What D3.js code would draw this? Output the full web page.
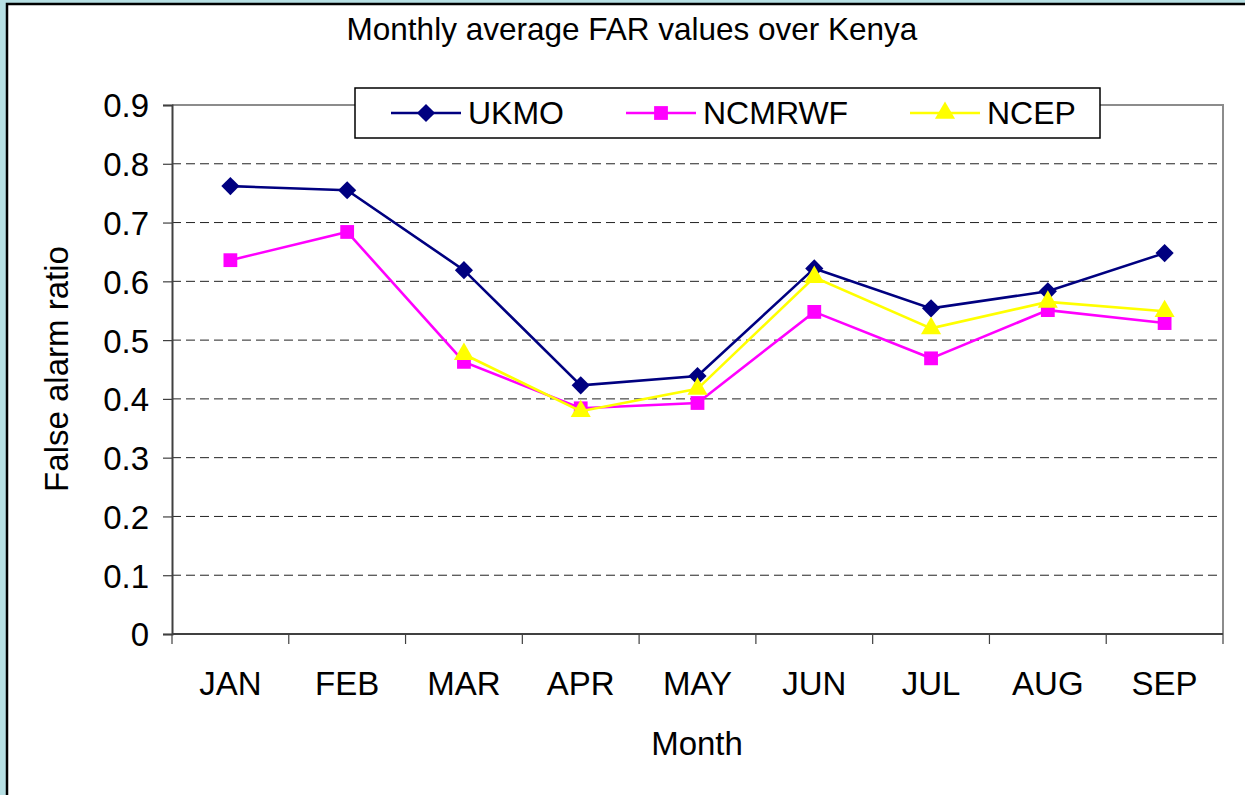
<!DOCTYPE html>
<html>
<head>
<meta charset="utf-8">
<script src="https://cdn.jsdelivr.net/npm/d3@7"></script>
<style>
  html, body { margin: 0; padding: 0; background: #b6dfe3; }
  svg { display: block; }
  text { font-family: "Liberation Sans", Arial, sans-serif; fill: #000; }
</style>
</head>
<body>
<svg id="chart" width="1245" height="795"></svg>
<script>
const months = ["JAN", "FEB", "MAR", "APR", "MAY", "JUN", "JUL", "AUG", "SEP"];
const ukmo = [0.762, 0.755, 0.619, 0.423, 0.439, 0.622, 0.554, 0.583, 0.648];
const ncmrwf = [0.636, 0.684, 0.463, 0.384, 0.393, 0.548, 0.469, 0.551, 0.529];
const ncep = [null, null, 0.476, 0.379, 0.417, 0.607, 0.520, 0.565, 0.549];
const yTicks = [0, 0.1, 0.2, 0.3, 0.4, 0.5, 0.6, 0.7, 0.8, 0.9];

// diamond = square turned 45 degrees
const series = [
  { name: "UKMO", values: ukmo, color: "#000080", symbol: d3.symbolSquare, size: 165, rot: 45 },
  { name: "NCMRWF", values: ncmrwf, color: "#ff00ff", symbol: d3.symbolSquare, size: 190, rot: 0 },
  { name: "NCEP", values: ncep, color: "#ffff00", symbol: d3.symbolTriangle, size: 175, rot: 0 }
];

const svg = d3.select("#chart");

// white panel with black frame on top/left
svg.append("rect")
  .attr("x", 7).attr("y", 4)
  .attr("width", 1245).attr("height", 800)
  .attr("fill", "#fff")
  .attr("stroke", "#000")
  .attr("stroke-width", 2.5);

const plot = { left: 172, right: 1223, top: 105, bottom: 634 };

const x = d3.scaleBand().domain(months).range([plot.left, plot.right]).padding(0);
const y = d3.scaleLinear().domain([0, 0.9]).range([plot.bottom, plot.top]);

// gridlines
svg.append("g")
  .selectAll("line")
  .data(yTicks.filter(d => d > 0 && d < 0.9))
  .enter()
  .append("line")
  .attr("x1", plot.left).attr("x2", plot.right)
  .attr("y1", d => y(d)).attr("y2", d => y(d))
  .attr("stroke", "#222")
  .attr("stroke-width", 1)
  .attr("stroke-dasharray", "9,5");

// plot area border (top/right gray)
svg.append("path")
  .attr("d", `M${plot.left},${plot.top}H${plot.right}V${plot.bottom}`)
  .attr("fill", "none")
  .attr("stroke", "#8c8c8c")
  .attr("stroke-width", 2);

// y axis
const yAxis = svg.append("g")
  .attr("transform", `translate(${plot.left},0)`)
  .call(d3.axisLeft(y).tickValues(yTicks).tickSize(9).tickPadding(14)
    .tickFormat(d => d === 0 ? "0" : d3.format(".1f")(d)));
yAxis.select(".domain").attr("stroke", "#404040").attr("stroke-width", 2);
yAxis.selectAll(".tick line").attr("stroke", "#404040").attr("stroke-width", 1.2);
yAxis.selectAll("text").style("font-size", "33px").attr("dy", "0.36em");

// x axis: ticks at category boundaries
const xAxis = svg.append("g")
  .attr("transform", `translate(0,${plot.bottom})`);
xAxis.append("line")
  .attr("x1", plot.left).attr("x2", plot.right)
  .attr("stroke", "#404040").attr("stroke-width", 2);
const bounds = months.map(m => x(m)).concat([plot.right]);
xAxis.selectAll(".bt")
  .data(bounds)
  .enter()
  .append("line")
  .attr("x1", d => d).attr("x2", d => d)
  .attr("y1", 0).attr("y2", 10)
  .attr("stroke", "#404040").attr("stroke-width", 1.2);
xAxis.selectAll(".lbl")
  .data(months)
  .enter()
  .append("text")
  .attr("x", d => x(d) + x.bandwidth() / 2)
  .attr("y", 61)
  .attr("text-anchor", "middle")
  .style("font-size", "33px")
  .text(d => d);

// lines and markers
const cx = i => x(months[i]) + x.bandwidth() / 2;
series.forEach(s => {
  const line = d3.line()
    .defined(d => d != null)
    .x((d, i) => cx(i))
    .y(d => y(d));
  svg.append("path")
    .datum(s.values)
    .attr("d", line)
    .attr("fill", "none")
    .attr("stroke", s.color)
    .attr("stroke-width", 2.6);
  svg.append("g")
    .selectAll("path")
    .data(s.values.map((v, i) => ({ v, i })).filter(d => d.v != null))
    .enter()
    .append("path")
    .attr("d", d3.symbol().type(s.symbol).size(s.size))
    .attr("transform", d => `translate(${cx(d.i)},${y(d.v)}) rotate(${s.rot})`)
    .attr("fill", s.color);
});

// title
svg.append("text")
  .attr("x", 632).attr("y", 40)
  .attr("text-anchor", "middle")
  .style("font-size", "31.5px")
  .text("Monthly average FAR values over Kenya");

// axis titles
svg.append("text")
  .attr("x", 697).attr("y", 755)
  .attr("text-anchor", "middle")
  .style("font-size", "33px")
  .text("Month");
svg.append("text")
  .attr("transform", "translate(68,369) rotate(-90)")
  .attr("text-anchor", "middle")
  .style("font-size", "33px")
  .text("False alarm ratio");

// legend
const legend = svg.append("g");
legend.append("rect")
  .attr("x", 355).attr("y", 88)
  .attr("width", 745).attr("height", 50)
  .attr("fill", "#fff")
  .attr("stroke", "#000")
  .attr("stroke-width", 1.5);
const legendX = [391, 626, 910];
series.forEach((s, i) => {
  const lx = legendX[i];
  legend.append("line")
    .attr("x1", lx).attr("x2", lx + 70)
    .attr("y1", 113).attr("y2", 113)
    .attr("stroke", s.color).attr("stroke-width", 2.6);
  legend.append("path")
    .attr("d", d3.symbol().type(s.symbol).size(s.size)())
    .attr("transform", `translate(${lx + 35},113) rotate(${s.rot})`)
    .attr("fill", s.color);
  legend.append("text")
    .attr("x", lx + 77).attr("y", 124)
    .style("font-size", "32px")
    .text(s.name);
});
</script>
</body>
</html>
